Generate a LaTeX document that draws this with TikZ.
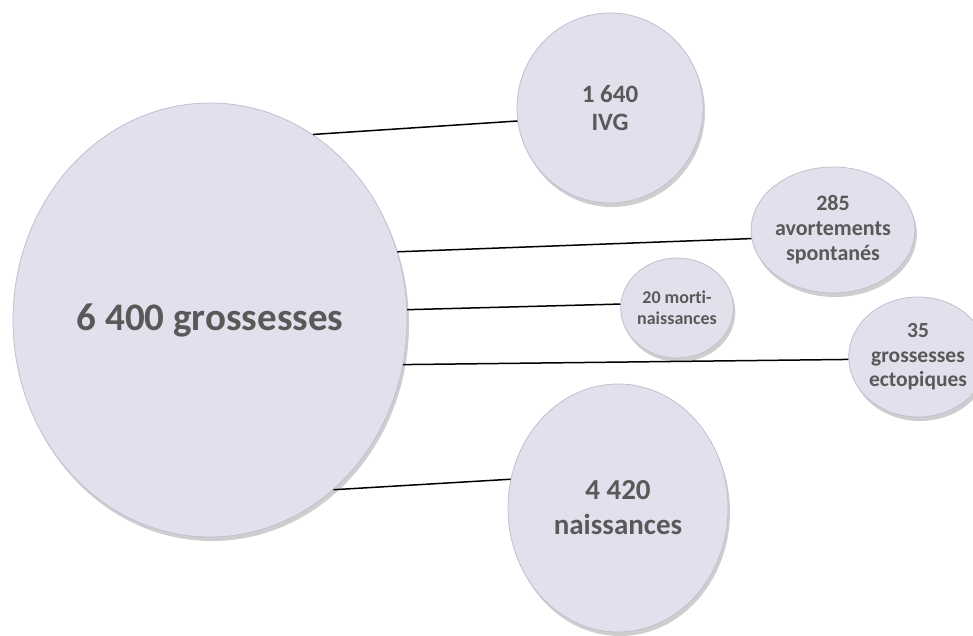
\documentclass[tikz,border=0pt]{standalone}
\usepackage{fontspec}
\setmainfont[Ligatures=NoCommon]{Carlito}
\usetikzlibrary{shapes.geometric,shadows}
\definecolor{bubble}{RGB}{227,223,236}
\definecolor{bubbleedge}{RGB}{196,190,206}
\definecolor{txt}{RGB}{89,89,89}
\tikzset{
  bubble/.style={ellipse, inner sep=0pt, fill=bubble, draw=bubbleedge, line width=0.8pt,
    drop shadow={opacity=0.35, shadow xshift=2pt, shadow yshift=-4pt, fill=black!55},
    text=txt, align=center, font=\bfseries},
  link/.style={draw=black, line width=1.5pt}
}
\begin{document}
\begin{tikzpicture}[x=1pt,y=-1pt]
\useasboundingbox (0,0) rectangle (973,635);
\node[bubble, minimum width=394pt, minimum height=434pt,
  font=\bfseries\fontsize{39}{44}\selectfont] (big) at (210,320) {6 400 grossesses};
\node[bubble, minimum width=186pt, minimum height=190pt,
  font=\bfseries\fontsize{25}{28}\selectfont] (ivg) at (610,108) {1 640\\IVG};
\node[bubble, minimum width=128pt, minimum height=126pt,
  font=\bfseries\fontsize{22}{25}\selectfont] (avort) at (833,230) {285\\avortements\\spontanés};
\node[bubble, minimum width=99pt, minimum height=100pt,
  font=\bfseries\fontsize{18}{21}\selectfont] (morti) at (677,308) {20 morti-\\naissances};
\node[bubble, minimum width=116pt, minimum height=120pt,
  font=\bfseries\fontsize{21.5}{24.5}\selectfont] (ecto) at (918,357) {35\\grossesses\\ectopiques};
\node[bubble, minimum width=220pt, minimum height=248pt,
  font=\bfseries\fontsize{29}{35}\selectfont] (naiss) at (618,508) {4 420\\naissances};
\path[link] (big.61.3) -- (ivg.188.6);
\path[link] (big.20.8) -- (avort.186.2);
\path[link] (big.3.2) -- (morti.176.5);
\path[link] (big.-13.5) -- (ecto.182);
\path[link] (big.-54.5) -- (naiss.165.5);
\end{tikzpicture}
\end{document}
